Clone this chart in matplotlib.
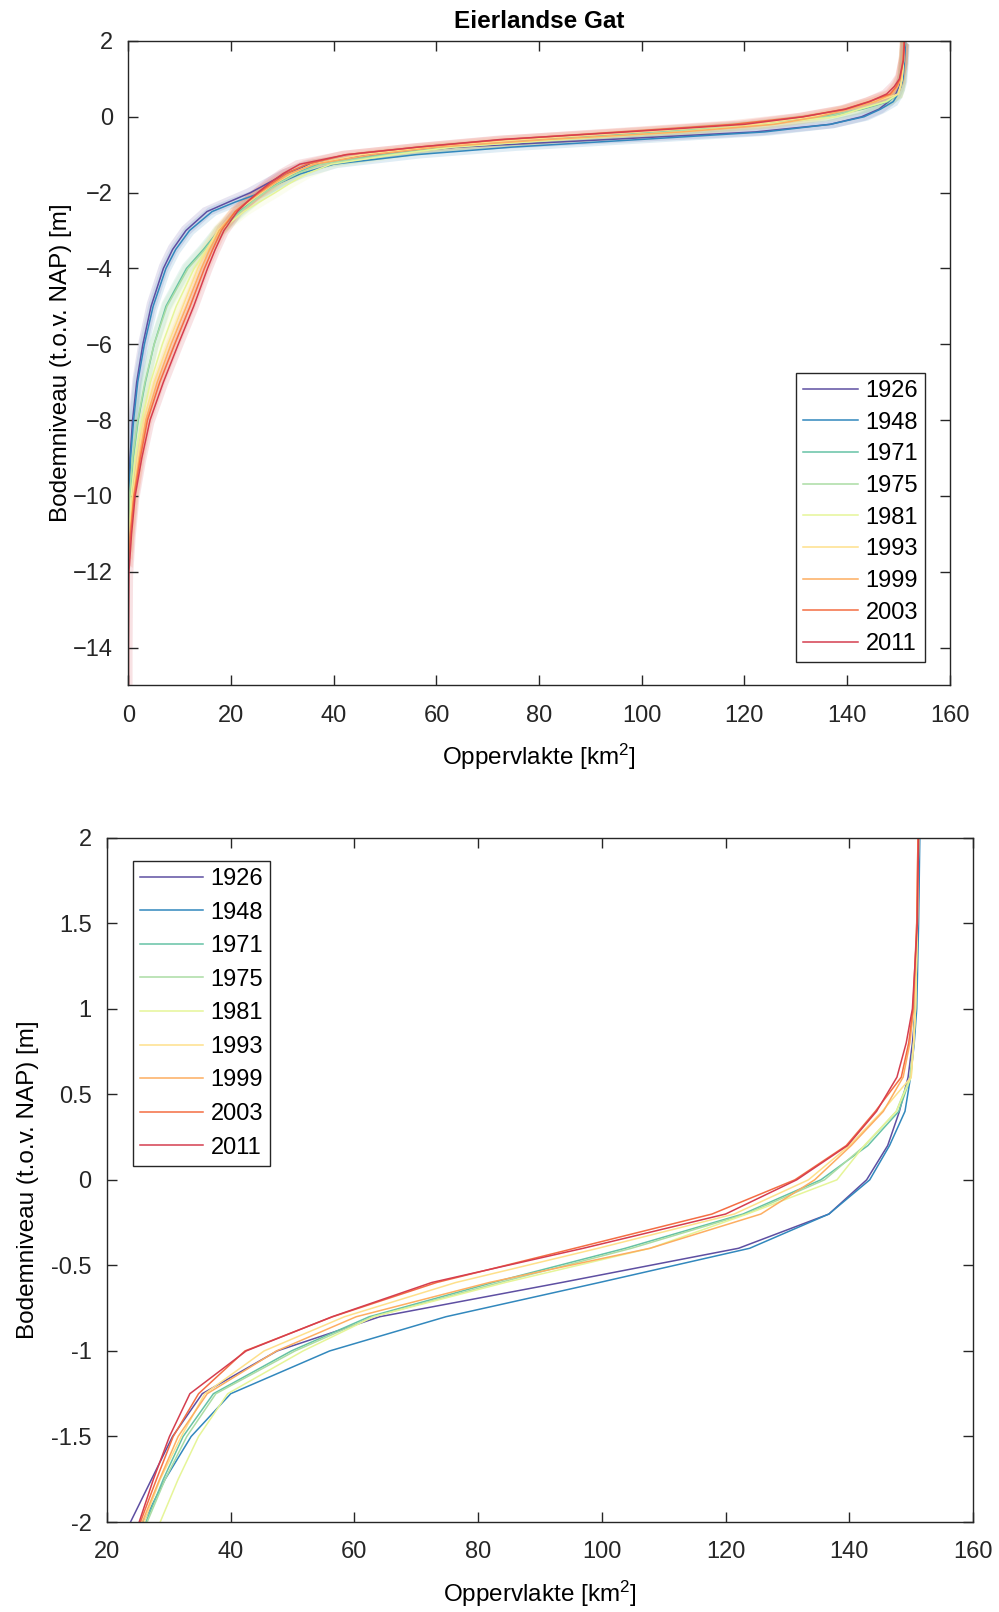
import numpy as np
import matplotlib.pyplot as plt

plt.rc('font', family=['Liberation Sans', 'DejaVu Sans'], size=17)
plt.rc('mathtext', fontset='custom', rm='Liberation Sans', it='Liberation Sans:italic')
plt.rc('lines', linewidth=1.1)

N = np.nan

years = ['1926', '1948', '1971', '1975', '1981', '1993', '1999', '2003', '2011']
colors = ['#5e4fa2', '#3288bd', '#66c2a5', '#abdda4', '#e6f598',
          '#fee08b', '#fdae61', '#f46d43', '#d53e4f']

# bed level (m NAP) at which the wet area becomes zero
bed = [-10.0, -10.4, -10.8, -10.6, -11.2, -11.4, -11.6, -11.8, -15.5]

# depth levels (m NAP) and area (km2) below each level, per year
levels = [-14, -12, -11, -10, -9, -8, -7, -6, -5, -4, -3.5, -3, -2.5, -2.25, -2, -1.75, -1.5,
          -1.25, -1, -0.8, -0.6, -0.4, -0.2, 0, 0.2, 0.4, 0.6, 0.8, 1.0, 1.5, 2.0]

area_1926 = [N, N, N, N, 0.3, 0.8, 1.6, 2.8, 4.4, 6.8, 8.6, 11.2, 15.3, 19.5, 23.8, 27.2, 30.6,
             35.4, 47.5, 64.1, 93.5, 122.1, 136.7, 142.8, 146.2, 148.1, 149.5, 150.2, 150.7, 151.1, 151.3]
area_1948 = [N, N, N, 0.1, 0.4, 1.0, 1.8, 3.1, 4.8, 7.3, 9.2, 11.9, 16.3, 20.8, 25.9, 29.4, 33.6,
             40.0, 56.0, 74.8, 99.6, 123.9, 136.7, 143.3, 146.5, 149.0, 149.9, 150.5, 150.9, 151.2, 151.4]
area_1971 = [N, N, N, 0.3, 0.9, 1.9, 3.3, 5.0, 7.3, 11.3, 14.6, 17.6, 21.6, 23.9, 26.3, 29.1, 32.3,
             37.2, 49.8, 62.4, 82.4, 103.8, 122.8, 135.4, 143.0, 148.0, 149.9, 150.4, 150.6, 151.0, 151.2]
area_1975 = [N, N, N, 0.2, 0.8, 1.8, 3.2, 5.0, 7.5, 11.6, 14.9, 17.8, 21.9, 24.1, 26.5, 29.4, 32.9,
             37.6, 50.4, 63.0, 83.5, 104.8, 123.3, 136.0, 142.5, 147.6, 149.8, 150.4, 150.7, 151.0, 151.2]
area_1981 = [N, N, 0.1, 0.5, 1.3, 2.6, 4.3, 6.6, 9.3, 12.8, 15.2, 17.9, 22.5, 25.5, 28.6, 31.5, 34.8,
             39.5, 51.7, 63.1, 84.4, 107.8, 123.5, 138.0, 142.4, 147.6, 150.0, 150.4, 150.7, 151.0, 151.2]
area_1993 = [N, N, 0.2, 0.8, 1.8, 3.0, 5.0, 7.7, 10.6, 13.5, 15.3, 17.4, 21.0, 23.5, 26.0, 28.6, 32.0,
             35.8, 45.4, 58.4, 76.4, 99.4, 121.4, 133.4, 140.0, 145.3, 150.0, 150.4, 150.7, 151.0, 151.2]
area_1999 = [N, N, 0.3, 1.0, 2.1, 3.4, 5.6, 8.3, 11.3, 14.2, 15.8, 17.7, 20.8, 23.2, 25.7, 28.5, 31.5,
             36.2, 47.4, 60.3, 81.8, 107.8, 125.7, 134.4, 140.3, 145.5, 148.7, 149.8, 150.4, 150.9, 151.1]
area_2003 = [N, N, 0.4, 1.1, 2.3, 3.7, 6.1, 9.0, 12.0, 14.8, 16.4, 18.1, 20.8, 23.0, 25.4, 28.0, 30.7,
             34.8, 42.3, 56.5, 73.3, 95.6, 117.8, 131.2, 139.5, 144.2, 148.4, 149.6, 150.3, 150.9, 151.1]
area_2011 = [0.0, 0.1, 0.6, 1.3, 2.6, 4.2, 6.8, 9.7, 12.7, 15.4, 16.9, 18.6, 21.2, 23.1, 25.2, 27.5, 30.1,
             33.4, 42.5, 56.4, 72.5, 97.0, 120.0, 131.5, 139.7, 144.4, 147.7, 149.2, 150.2, 151.0, 151.2]

areas = [area_1926, area_1948, area_1971, area_1975, area_1981,
         area_1993, area_1999, area_2003, area_2011]

# spread of the band around each curve (top panel)
band_dx = 0.8
band_dy = 0.1


def curve(i):
    a = np.array(areas[i], dtype=float)
    d = np.array(levels, dtype=float)
    ok = ~np.isnan(a)
    return np.r_[0.0, a[ok]], np.r_[bed[i], d[ok]]


def style_axes(ax):
    for s in ax.spines.values():
        s.set_color('#262626')
        s.set_linewidth(1.0)
    ax.tick_params(direction='in', length=7, width=1, top=True, right=True,
                   colors='#262626', labelcolor='#262626')
    ax.tick_params(axis='x', pad=14)
    ax.tick_params(axis='y', pad=11)


def add_legend(ax, anchor, loc, spacing, hlen):
    leg = ax.legend(loc=loc, bbox_to_anchor=anchor, borderaxespad=0,
                    fancybox=False, edgecolor='#262626', framealpha=1,
                    handlelength=hlen, handletextpad=0.3, labelspacing=spacing,
                    borderpad=0.3)
    leg.get_frame().set_linewidth(1.0)
    return leg


fig = plt.figure(figsize=(9.99, 16.12), dpi=100)
ax1 = fig.add_axes([0.1286, 0.5748, 0.8221, 0.3998])
ax2 = fig.add_axes([0.1071, 0.0558, 0.8669, 0.4246])

for i, yr in enumerate(years):
    a, d = curve(i)
    px = np.r_[a - band_dx, (a + band_dx)[::-1]]
    py = np.r_[d + band_dy, (d - band_dy)[::-1]]
    ax1.fill(px, py, color=colors[i], alpha=0.15, lw=0)
    ax1.plot(a, d, color=colors[i], label=yr)
    ax2.plot(a, d, color=colors[i], label=yr)

ax1.set_xlim(0, 160)
ax1.set_ylim(-15, 2)
ax1.set_xticks(np.arange(0, 161, 20))
ax1.set_yticks(np.arange(-14, 3, 2))
ax1.set_title('Eierlandse Gat', fontweight='bold', fontsize=17.5, pad=9)
ax1.set_xlabel('Oppervlakte [km$^2$]', fontsize=17.5, labelpad=11)
ax1.set_ylabel('Bodemniveau (t.o.v. NAP) [m]', fontsize=17.5, labelpad=1)
style_axes(ax1)
add_legend(ax1, (0.970, 0.485), 'upper right', 0.41, 2.35)

ax2.set_xlim(20, 160)
ax2.set_ylim(-2, 2)
ax2.set_xticks(np.arange(20, 161, 20))
ax2.set_yticks(np.arange(-2, 2.01, 0.5))
ax2.set_yticklabels(['-2', '-1.5', '-1', '-0.5', '0', '0.5', '1', '1.5', '2'])
ax2.set_xlabel('Oppervlakte [km$^2$]', fontsize=17.5, labelpad=11)
ax2.set_ylabel('Bodemniveau (t.o.v. NAP) [m]', fontsize=17.5, labelpad=9)
style_axes(ax2)
add_legend(ax2, (0.0296, 0.966), 'upper left', 0.49, 2.7)

fig.savefig('out.png', dpi=100)
